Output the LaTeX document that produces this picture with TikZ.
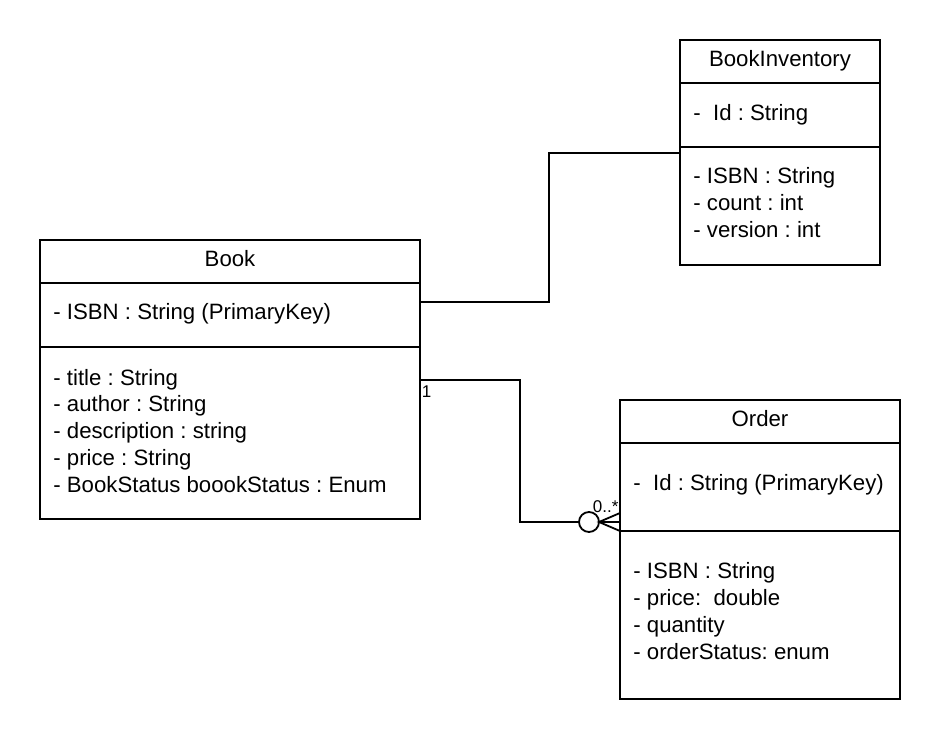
\documentclass[tikz,border=0pt]{standalone}
\usepackage{fontspec}
\setmainfont{Liberation Sans}
\usetikzlibrary{positioning}
\frenchspacing

\begin{document}
\begin{tikzpicture}[x=1pt,y=-1pt,line width=1.8pt,
    font=\fontsize{22.2}{27}\selectfont,
    head/.style={shape=rectangle,draw=black,anchor=north west,inner sep=0pt,outer sep=0pt,minimum height=43pt},
    part/.style={shape=rectangle,draw=black,inner sep=0pt,outer sep=0pt},
    title/.style={anchor=base,inner sep=0pt},
    attr/.style={anchor=base west,inner sep=0pt},
    small/.style={anchor=base west,inner sep=0pt,font=\fontsize{17}{19}\selectfont}]
                \useasboundingbox (0,0) rectangle (940,740);
                % Book
                \node[head,minimum width=380pt](BookHead)at(40, 240){};
                \node[part,minimum width=380pt,minimum height=64pt,below=0pt of BookHead](BookKey){};
                \node[part,minimum width=380pt,minimum height=172pt,below=0pt of BookKey](BookAttr){};
                \node[title](BookName)at(230, 266){Book};
                \node[attr](BookIsbn)at(52.5, 319){- ISBN : String (PrimaryKey)};
                \node[attr](BookTitle)at(52.5, 385){- title : String};
                \node[attr](BookAuthor)at(52.5, 411.75){- author : String};
                \node[attr](BookDesc)at(52.5, 438.5){- description : string};
                \node[attr](BookPrice)at(52.5, 465.25){- price : String};
                \node[attr](BookStatus)at(52.5, 492){- BookStatus boookStatus : Enum};

                % BookInventory
                \node[head,minimum width=200pt](InvHead)at(680, 40){};
                \node[part,minimum width=200pt,minimum height=64pt,below=0pt of InvHead](InvId){};
                \node[part,minimum width=200pt,minimum height=118pt,below=0pt of InvId](InvAttr){};
                \node[title](InvName)at(780, 66.5){BookInventory};
                \node[attr](InvKey)at(692.5, 120){-\ \ Id : String};
                \node[attr](InvIsbn)at(692.5, 183.3){- ISBN : String};
                \node[attr](InvCount)at(692.5, 210.2){- count : int};
                \node[attr](InvVersion)at(692.5, 237){- version : int};

                % Order
                \node[head,minimum width=280pt](OrderHead)at(620, 400){};
                \node[part,minimum width=280pt,minimum height=88pt,below=0pt of OrderHead](OrderId){};
                \node[part,minimum width=280pt,minimum height=168pt,below=0pt of OrderId](OrderAttr){};
                \node[title](OrderName)at(760, 426.7){Order};
                \node[attr](OrderKey)at(632.5, 490.7){-\ \ Id : String (PrimaryKey)};
                \node[attr](OrderIsbn)at(632.5, 578.3){- ISBN : String};
                \node[attr](OrderPrice)at(632.5, 605.3){- price:\ \ double};
                \node[attr](OrderQty)at(632.5, 632.3){- quantity};
                \node[attr](OrderStatus)at(632.5, 659.3){- orderStatus: enum};

                % connectors
                \draw ([yshift=-19pt]BookKey.north east) -- ++(129, 0) |- ([yshift=-6pt]InvAttr.north west);
                \coordinate (Many) at ([yshift=9pt]OrderId.south west);
                \draw ([yshift=-33pt]BookAttr.north east) -- ++(100, 0) |- (Many);
                \node[shape=circle,draw=black,fill=white,minimum size=20pt,inner sep=0pt](Zero)at([xshift=-31pt]Many){};
                \draw ([yshift=9pt]Many) -- ([xshift=-21pt]Many) -- ([yshift=-9pt]Many);
                \node[small](One)at(421, 397){1};
                \node[small](ZeroMany)at(592, 512){0..*};
\end{tikzpicture}
\end{document}
